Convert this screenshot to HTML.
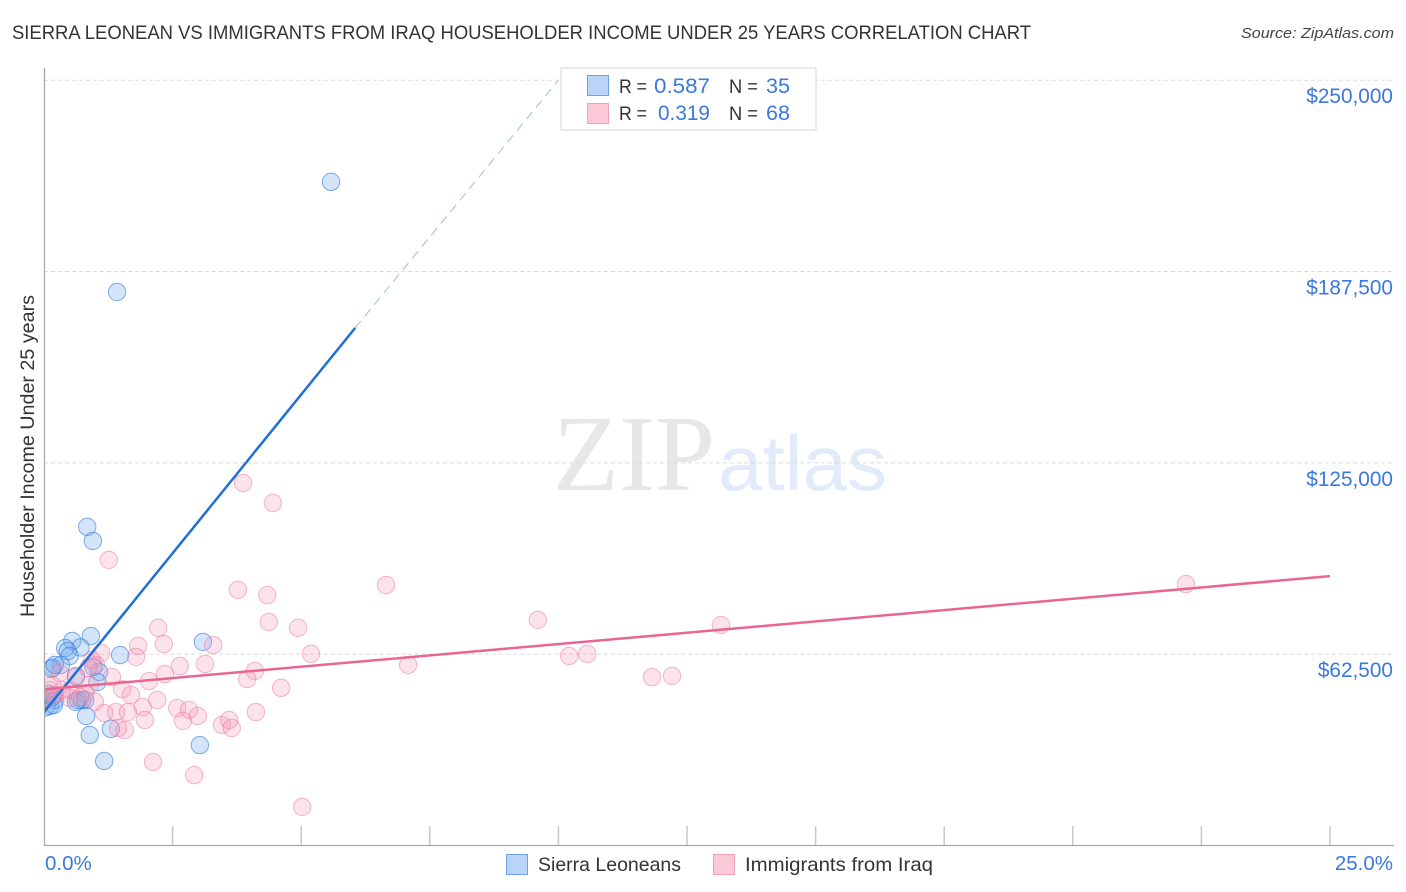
<!DOCTYPE html>
<html lang="en">
<head>
<meta charset="utf-8">
<title>Sierra Leonean vs Immigrants from Iraq Householder Income Correlation Chart</title>
<style>
html,body{margin:0;padding:0;background:#fff;}
body{width:1406px;height:892px;overflow:hidden;}
svg{display:block;font-family:"Liberation Sans",sans-serif;}
</style>
</head>
<body>
<svg id="chart" xmlns="http://www.w3.org/2000/svg" width="1406" height="892" viewBox="0 0 1406 892">
  <defs>
    <clipPath id="plot-clip"><rect x="45" y="60" width="1349" height="785"/></clipPath>
  </defs>
  <rect x="0" y="0" width="1406" height="892" fill="#ffffff"/>
  <text x="12" y="39" font-size="19.5" fill="#333333" textLength="1019" lengthAdjust="spacingAndGlyphs">SIERRA LEONEAN VS IMMIGRANTS FROM IRAQ HOUSEHOLDER INCOME UNDER 25 YEARS CORRELATION CHART</text>
  <text x="1394" y="38" font-size="15" font-style="italic" fill="#444444" text-anchor="end" textLength="153" lengthAdjust="spacingAndGlyphs">Source: ZipAtlas.com</text>
  <g>
    <text x="553" y="490" font-family="'Liberation Serif',serif" font-size="108" fill="#e7e7e7" textLength="162" lengthAdjust="spacingAndGlyphs">ZIP</text>
    <text x="718" y="490" font-size="78" fill="#e2ebfa" textLength="169" lengthAdjust="spacingAndGlyphs">atlas</text>
  </g>
  <g id="grid"></g>
  <g id="axes"></g>
  <g id="marks" clip-path="url(#plot-clip)"></g>
  <g id="lines" clip-path="url(#plot-clip)"></g>
  <text transform="translate(34,456) rotate(-90)" font-size="19" fill="#333333" text-anchor="middle" textLength="322" lengthAdjust="spacingAndGlyphs">Householder Income Under 25 years</text>

  <g>
    <rect x="561" y="68" width="255" height="62" fill="#ffffff" stroke="#dddddd" stroke-width="1.2"/>
    <rect x="587.5" y="75.5" width="21" height="20" fill="#b9d4f6" stroke="#6ba3e6" stroke-width="1"/>
    <rect x="587.5" y="103.5" width="21" height="20" fill="#fcc9d9" stroke="#f0a0ba" stroke-width="1"/>
    <text x="619" y="93" font-size="19.5" fill="#333333" textLength="28" lengthAdjust="spacingAndGlyphs">R =</text>
    <text x="654" y="93" font-size="21" fill="#3b78dc" textLength="56" lengthAdjust="spacingAndGlyphs">0.587</text>
    <text x="729" y="93" font-size="19.5" fill="#333333" textLength="29" lengthAdjust="spacingAndGlyphs">N =</text>
    <text x="766" y="93" font-size="21" fill="#3b78dc" textLength="24" lengthAdjust="spacingAndGlyphs">35</text>
    <text x="619" y="120" font-size="19.5" fill="#333333" textLength="28" lengthAdjust="spacingAndGlyphs">R =</text>
    <text x="658" y="120" font-size="21" fill="#3b78dc" textLength="52" lengthAdjust="spacingAndGlyphs">0.319</text>
    <text x="729" y="120" font-size="19.5" fill="#333333" textLength="29" lengthAdjust="spacingAndGlyphs">N =</text>
    <text x="766" y="120" font-size="21" fill="#3b78dc" textLength="24" lengthAdjust="spacingAndGlyphs">68</text>
  </g>

  <g>
    <g>
      <rect x="506.5" y="854.5" width="21" height="20" fill="#b9d4f6" stroke="#6ba3e6" stroke-width="1"/>
      <text x="538" y="871" font-size="19.5" fill="#333333" textLength="143" lengthAdjust="spacingAndGlyphs">Sierra Leoneans</text>
    </g>
    <g>
      <rect x="713.5" y="854.5" width="21" height="20" fill="#fcc9d9" stroke="#f0a0ba" stroke-width="1"/>
      <text x="745" y="871" font-size="19.5" fill="#333333" textLength="188" lengthAdjust="spacingAndGlyphs">Immigrants from Iraq</text>
    </g>
  </g>
</svg>
<script>
// X values are percent, Y values are thousands of dollars.
const yTickValues = [62.5, 125, 187.5, 250];
const yTickLabels = ['$62,500', '$125,000', '$187,500', '$250,000'];
const xTickValues = [0, 2.5, 5, 7.5, 10, 12.5, 15, 17.5, 20, 22.5, 25];
const xEdgeLabels = ['0.0%', '25.0%'];

const blueX = [5.58,1.42,0.84,0.95,0.91,0.55,0.71,0.41,0.46,0.50,1.48,3.09,0.33,0.17,0.14,0.21,1.07,0.96,1.04,0.62,0.12,0.21,0.74,0.80,0.66,0.82,0.89,1.30,3.03,1.17,0.00,0.16,0.08,0.62,0.19];
const blueY = [216.8,180.8,104.1,99.5,68.4,66.8,64.7,64.5,63.5,61.9,62.2,66.5,59.0,58.1,57.7,59.0,56.7,58.3,53.4,55.2,45.6,47.5,47.5,47.5,47.5,42.3,36.1,38.1,32.8,27.6,45.9,48.5,49.5,46.9,45.9];
const blueSizes = [1,1,1,1,1,1,1,1,1,1,1,1,1,1,1,1,1,1,1,1,1,1,1,1,1,1,1,1,1,1,1.3,1,1,1,1];

const pinkX = [22.20,3.87,4.45,1.26,6.65,3.77,4.34,9.60,13.16,4.37,4.94,2.22,2.33,1.83,3.29,1.11,5.19,10.21,10.56,1.79,7.08,2.64,3.13,0.93,1.01,4.10,2.35,3.95,1.32,2.04,11.82,12.21,4.61,1.52,1.69,2.20,1.92,2.59,2.82,2.99,2.70,4.12,1.17,1.40,1.63,1.96,3.46,3.60,3.65,1.44,1.57,2.12,2.92,5.02,0.62,0.31,0.86,0.89,0.80,0.99,0.51,0.35,0.12,0.21,0.49,0.70,0.06,0.16];
const pinkY = [85.4,118.4,111.9,93.3,85.1,83.5,81.8,73.7,72.0,73.0,71.1,71.1,65.8,65.2,65.5,62.9,62.6,61.9,62.6,61.6,59.0,58.6,59.3,60.6,59.0,57.0,56.0,54.4,55.0,53.7,55.0,55.4,51.5,51.1,49.2,47.5,45.2,44.9,44.3,42.3,40.7,43.6,43.3,43.6,43.6,41.0,39.4,41.0,38.4,38.4,37.7,27.3,23.0,12.6,55.4,56.4,58.0,52.4,49.8,46.9,50.8,50.8,50.8,49.2,48.2,48.5,48.2,52.4];

const blueTrendSolidX = [0, 6.05];
const blueTrendSolidY = [43.6, 169.1];
const blueTrendDashX = [6.05, 10];
const blueTrendDashY = [169.1, 250];
const pinkTrendX = [0, 25];
const pinkTrendY = [51.0, 88.0];

const NS = 'http://www.w3.org/2000/svg';
const xScale = v => 44 + (v / 25) * 1286;
const yScale = v => 845.5 - (v / 250) * 765.3;

function make(tag, attrs, parent) {
  const el = document.createElementNS(NS, tag);
  Object.keys(attrs).forEach(k => el.setAttribute(k, attrs[k]));
  parent.appendChild(el);
  return el;
}

const grid = document.getElementById('grid');
const axes = document.getElementById('axes');
const marks = document.getElementById('marks');
const lines = document.getElementById('lines');

yTickValues.forEach((v, i) => {
  const y = yScale(v);
  const g = make('line', {x1: 44, x2: 1394, y1: y, y2: y, stroke: '#dcdcdc', 'stroke-width': 1, 'stroke-dasharray': '4 3'}, grid);
  
  
  const t = make('text', {x: 1393, y: y + 23, 'font-size': 20.8, fill: '#3b78dc', 'text-anchor': 'end'}, axes);
  t.textContent = yTickLabels[i];
  
  
});

const yAxis = make('line', {x1: 44.5, x2: 44.5, y1: 68, y2: 846, stroke: '#aaaaaa', 'stroke-width': 1.3}, axes);


const xAxis = make('line', {x1: 44, x2: 1394, y1: 845.5, y2: 845.5, stroke: '#aaaaaa', 'stroke-width': 1.3}, axes);



xTickValues.slice(1).forEach(v => {
  const x = xScale(v);
  const t = make('line', {x1: x, x2: x, y1: 826, y2: 845, stroke: '#c8c8c8', 'stroke-width': 1.5}, axes);
  
  
});

const xLabelLeft = make('text', {x: 45, y: 870, 'font-size': 20.5, fill: '#3b78dc'}, axes);
xLabelLeft.textContent = xEdgeLabels[0];


const xLabelRight = make('text', {x: 1393, y: 870, 'font-size': 20.5, fill: '#3b78dc', 'text-anchor': 'end'}, axes);
xLabelRight.textContent = xEdgeLabels[1];



blueX.forEach((v, i) => {
  const c = make('circle', {cx: xScale(v), cy: yScale(blueY[i]), r: 8.7 * blueSizes[i], fill: 'rgba(112,168,240,0.3)', stroke: 'rgba(50,125,220,0.62)', 'stroke-width': 1}, marks);
  
  
});
pinkX.forEach((v, i) => {
  const c = make('circle', {cx: xScale(v), cy: yScale(pinkY[i]), r: 8.7, fill: 'rgba(246,150,182,0.28)', stroke: 'rgba(232,110,150,0.48)', 'stroke-width': 1}, marks);
  
  
});

const blueDash = make('line', {x1: xScale(blueTrendDashX[0]), y1: yScale(blueTrendDashY[0]), x2: xScale(blueTrendDashX[1]), y2: yScale(blueTrendDashY[1]), stroke: '#9dbde2', 'stroke-width': 1, 'stroke-dasharray': '9 6'}, lines);


const blueSolid = make('line', {x1: xScale(blueTrendSolidX[0]), y1: yScale(blueTrendSolidY[0]), x2: xScale(blueTrendSolidX[1]), y2: yScale(blueTrendSolidY[1]), stroke: '#1f6fd6', 'stroke-width': 2.5}, lines);


const pinkSolid = make('line', {x1: xScale(pinkTrendX[0]), y1: yScale(pinkTrendY[0]), x2: xScale(pinkTrendX[1]), y2: yScale(pinkTrendY[1]), stroke: '#e9668f', 'stroke-width': 2.5}, lines);


</script>
</body>
</html>
